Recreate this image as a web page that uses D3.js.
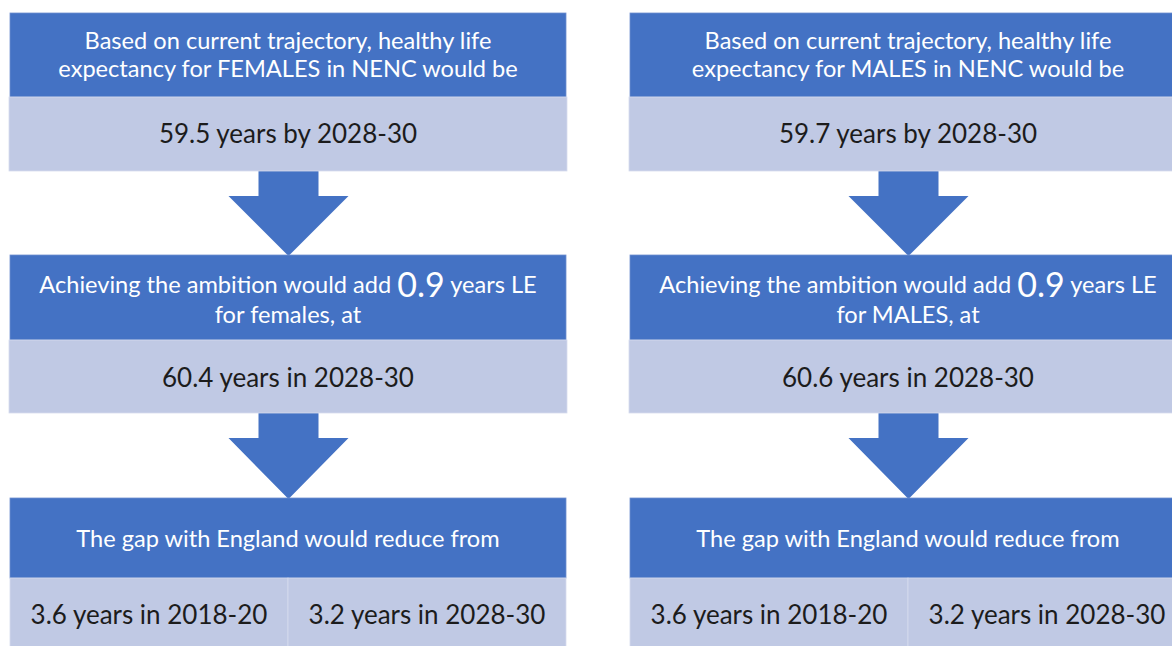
<!DOCTYPE html>
<html>
<head>
<meta charset="utf-8">
<script src="https://cdn.jsdelivr.net/npm/d3@7"></script>
<style>
  body { margin: 0; background: #fff; }
  svg { display: block; font-family: Lato, "Open Sans", sans-serif; }
</style>
</head>
<body>
<svg id="chart"></svg>
<script>
// Data
const groups = ["FEMALES", "MALES"];
const groupShort = ["females", "MALES"];
const trajectoryHLE = [59.5, 59.7];
const addedYears = [0.9, 0.9];
const ambitionHLE = [60.4, 60.6];
const gapFrom = [3.6, 3.6];
const gapTo = [3.2, 3.2];
const periodNow = "2018-20", periodTarget = "2028-30";

const width = 1172, height = 646;
const blue = "#4472c4", light = "#c0c9e4", dark = "#1c1c1c";

const svg = d3.select("#chart").attr("width", width).attr("height", height);

// columns (second one runs off the right edge)
const colW = 556;
const x = d3.scaleBand().domain([0, 1]).range([10, 10 + 2 * colW + 64]).paddingInner(64 / (colW + 64));

// vertical layout of the flow
const rows = {
  blue1: [13, 97], light1: [97, 171],
  arrow1: [171, 256],
  blue2: [255, 340], light2: [340, 413],
  arrow2: [413, 499],
  blue3: [498, 578], light3: [578, 660]
};

const whiteSize = 23.6, darkSize = 26;

function box(g, y, fill, w, x0) {
  g.append("rect")
    .attr("x", x0 || 0).attr("y", y[0])
    .attr("width", w || colW).attr("height", y[1] - y[0])
    .attr("fill", fill)
    .attr("stroke", fill === blue ? "#6f8fd0" : "#d6dcee")
    .attr("stroke-width", 0.8);
}

function arrow(g, y) {
  const cx = colW / 2 + 0.5, shaftW = 60, headW = 120, shaftEnd = y[0] + 25;
  const p = d3.path();
  p.moveTo(cx - shaftW / 2, y[0]);
  p.lineTo(cx + shaftW / 2, y[0]);
  p.lineTo(cx + shaftW / 2, shaftEnd);
  p.lineTo(cx + headW / 2, shaftEnd);
  p.lineTo(cx, y[1]);
  p.lineTo(cx - headW / 2, shaftEnd);
  p.lineTo(cx - shaftW / 2, shaftEnd);
  p.closePath();
  g.append("path").attr("d", p.toString()).attr("fill", blue);
}

function label(g, cx, cy, lines, size, color, lh) {
  lh = lh || size * 1.2;
  const t = g.append("text")
    .attr("text-anchor", "middle")
    .attr("fill", color)
    .attr("font-size", size);
  lines.forEach((ln, i) => {
    const ts = t.append("tspan")
      .attr("x", cx)
      .attr("y", cy + (i - (lines.length - 1) / 2) * lh)
      .attr("dominant-baseline", "central");
    if (Array.isArray(ln)) {
      ln.forEach(part => ts.append("tspan").attr("font-size", part.size || size).text(part.text));
    } else {
      ts.text(ln);
    }
  });
}

groups.forEach((grp, i) => {
  const g = svg.append("g").attr("transform", `translate(${x(i)},0)`);
  const cx = colW / 2;

  arrow(g, rows.arrow1);
  arrow(g, rows.arrow2);

  box(g, rows.blue1, blue);
  label(g, cx, 54, [
    "Based on current trajectory, healthy life",
    `expectancy for ${grp} in NENC would be`
  ], whiteSize, "#fff", 28.5);

  box(g, rows.light1, light, colW + 2, -1);
  label(g, cx, 133, [`${trajectoryHLE[i]} years by ${periodTarget}`], darkSize, dark);

  box(g, rows.blue2, blue);
  label(g, cx, 299, [
    [{ text: "Achieving the ambition would add " }, { text: addedYears[i].toFixed(1), size: 34 }, { text: " years LE" }],
    `for ${groupShort[i]}, at`
  ], whiteSize, "#fff", 30.5);

  box(g, rows.light2, light, colW + 2, -1);
  label(g, cx, 377, [`${ambitionHLE[i]} years in ${periodTarget}`], darkSize, dark);

  box(g, rows.blue3, blue);
  label(g, cx, 538, ["The gap with England would reduce from"], whiteSize, "#fff");

  box(g, rows.light3, light, colW / 2, 0);
  box(g, rows.light3, light, colW / 2, colW / 2);
  label(g, colW / 4, 614, [`${gapFrom[i]} years in ${periodNow}`], darkSize, dark);
  label(g, colW * 3 / 4, 614, [`${gapTo[i]} years in ${periodTarget}`], darkSize, dark);
});
</script>
</body>
</html>
